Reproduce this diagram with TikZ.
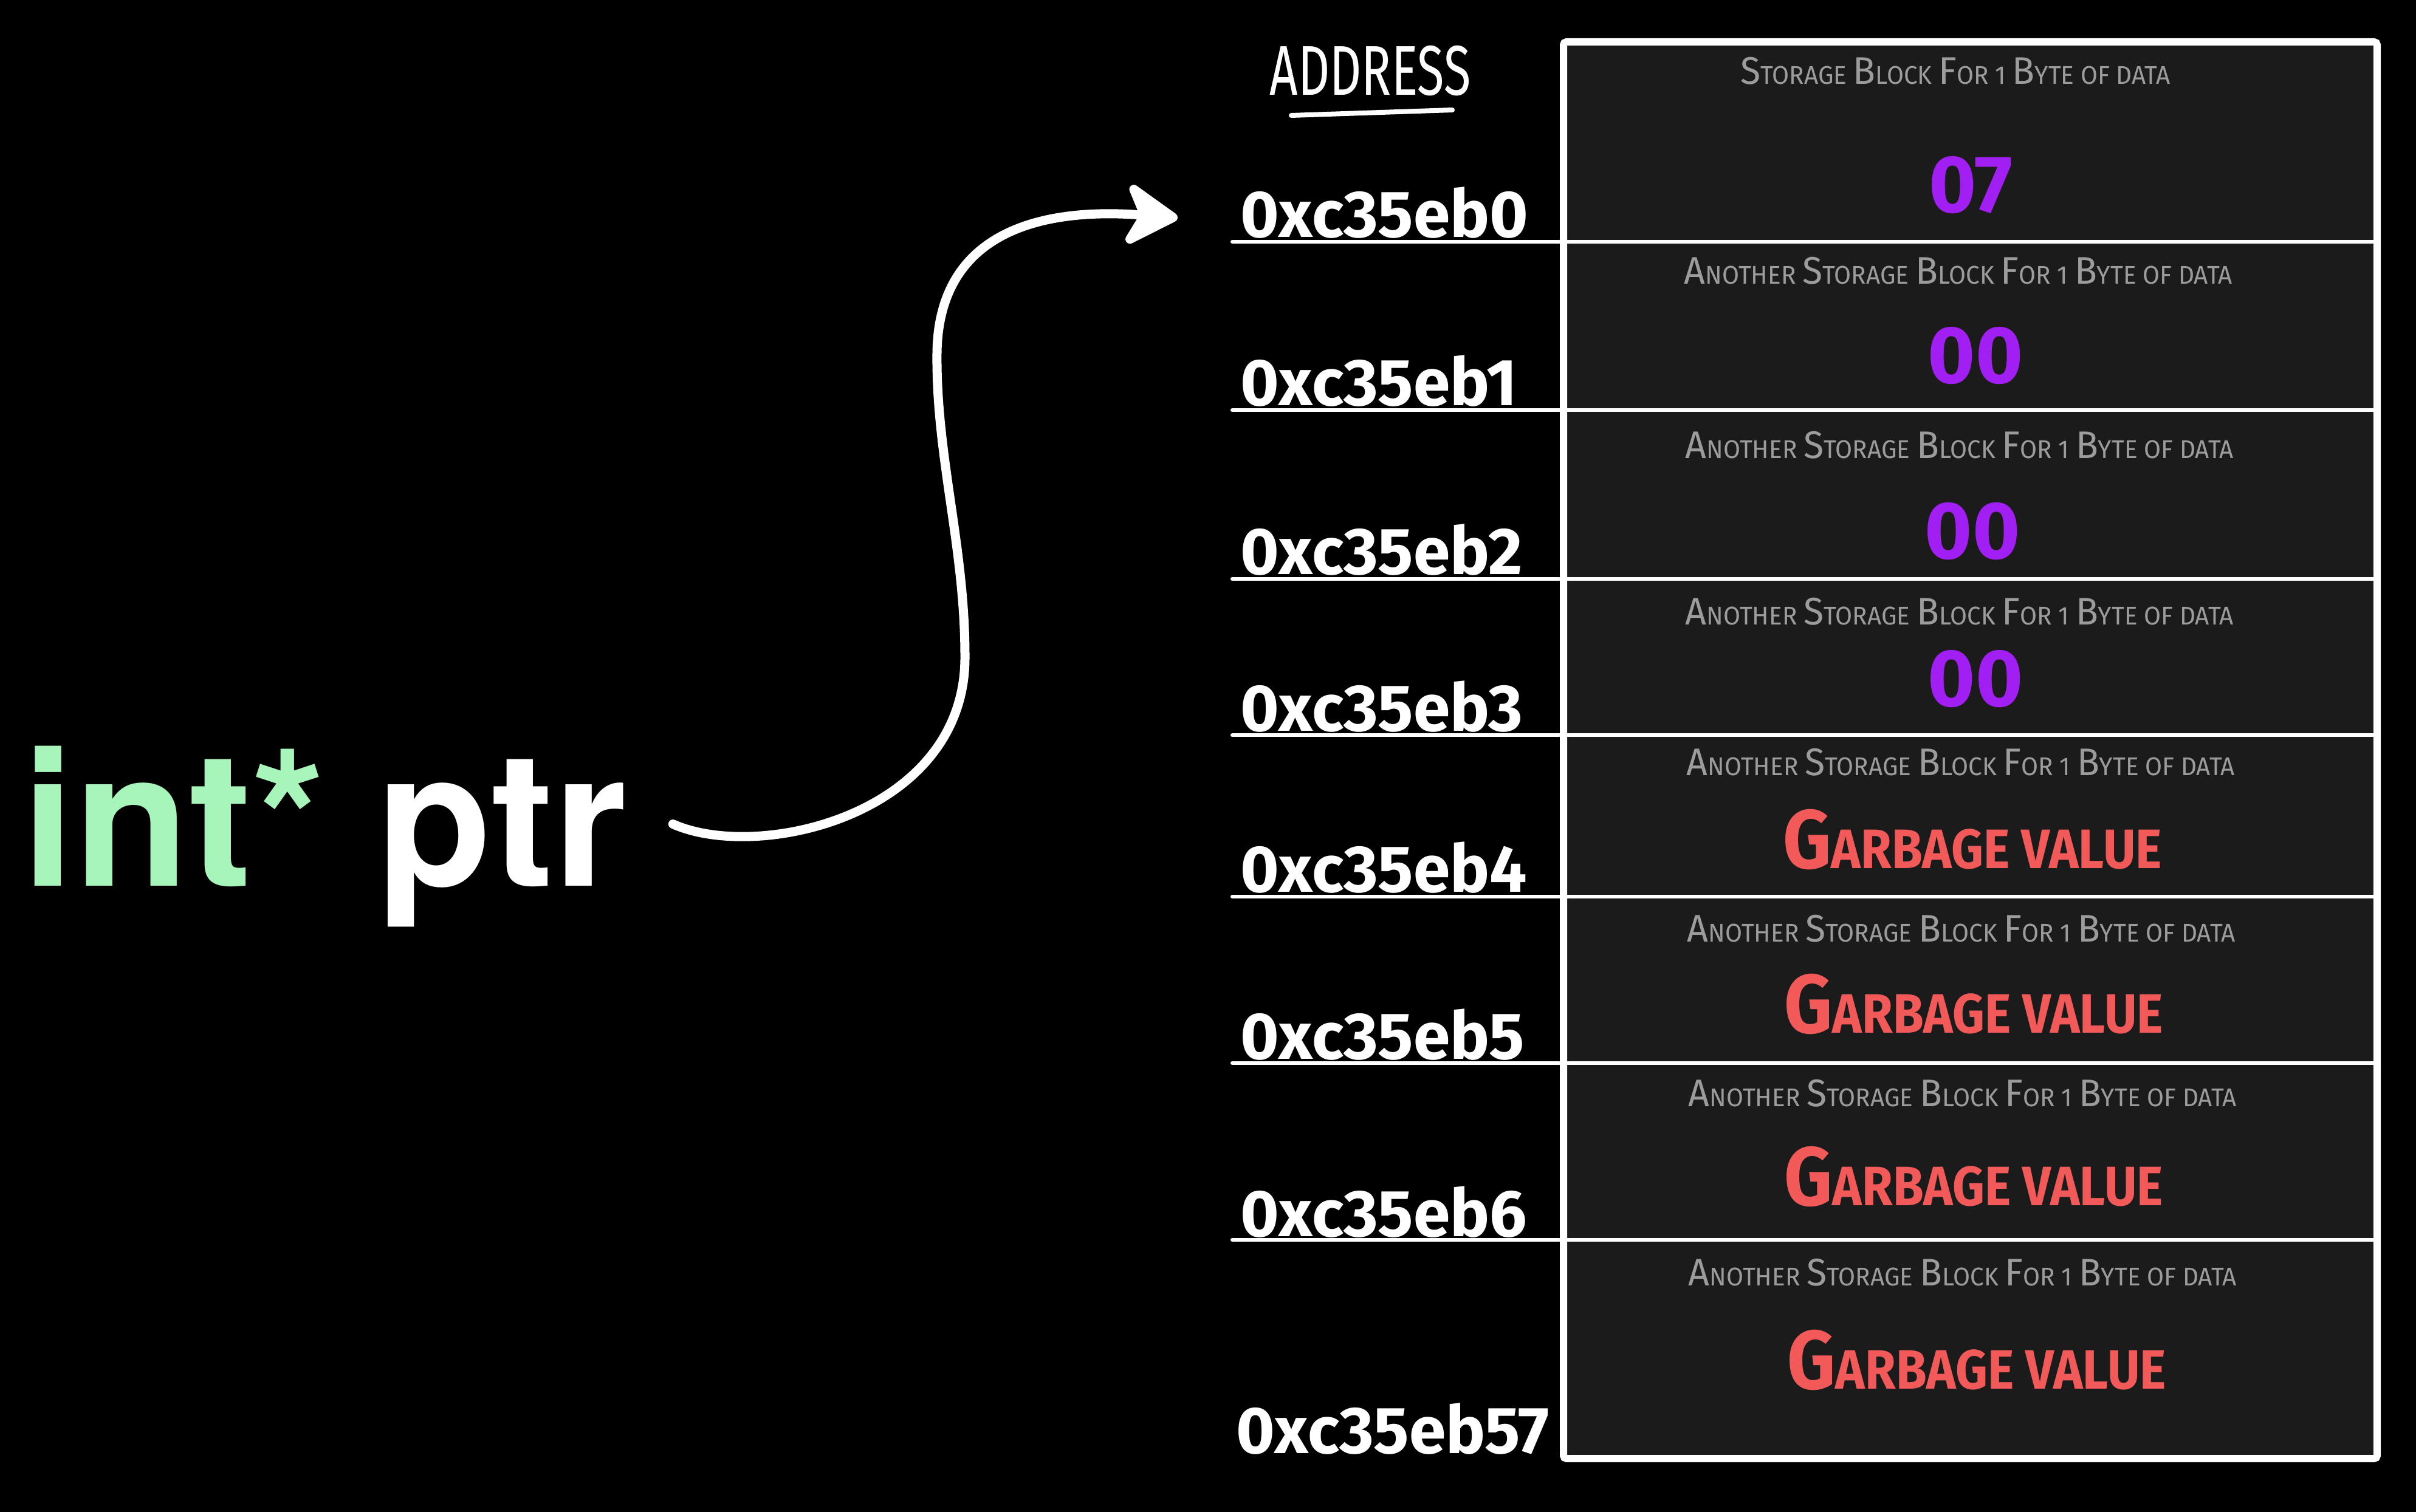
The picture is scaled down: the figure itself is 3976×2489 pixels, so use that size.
\documentclass[tikz,border=0pt]{standalone}
\usepackage{graphicx}
\usepackage{fontspec}
\setmainfont{Fira Sans}
\newfontfamily\heros{TeX Gyre Heros}
\usetikzlibrary{arrows.meta,positioning}

\definecolor{cellgray}{HTML}{1B1B1B}
\definecolor{labelgray}{HTML}{9C9C9C}
\definecolor{bytepurple}{HTML}{A11FF2}
\definecolor{garbagered}{HTML}{F25A5A}
\definecolor{intgreen}{HTML}{A8F5BB}

\newcommand\Cap[1]{\scalebox{1.5}{#1}}
\newcommand\narrow[2]{\scalebox{#1}[1]{#2}}
\newcommand\another{\narrow{0.96}{\Cap{A}NOTHER \Cap{S}TORAGE \Cap{B}LOCK \Cap{F}OR 1 \Cap{B}YTE OF DATA}}
\newcommand\garbage{\narrow{0.9}{\Cap{G}ARBAGE VALUE}}

\tikzset{
  addr/.style={anchor=base west, inner sep=0, text=white,
    font=\fontsize{31}{34}\selectfont\bfseries},
  hdr/.style={inner sep=0, text=white, font=\fontsize{33}{36}\selectfont},
  blocklabel/.style={inner sep=0, text=labelgray, font=\fontsize{12}{14}\selectfont},
  byteval/.style={inner sep=0, text=bytepurple, font=\fontsize{38}{42}\selectfont\bfseries},
  garbval/.style={inner sep=0, text=garbagered, font=\fontsize{26}{30}\selectfont\bfseries},
  rowline/.style={white, line width=0.6mm, line cap=round},
  ptrarrow/.style={white, line width=1.5mm, line cap=round,
    -{Stealth[length=10mm,width=12mm,inset=3mm,round]}}
}

\begin{document}
\begin{tikzpicture}[x=0.1mm,y=-0.1mm]
  \fill[black] (0,0) rectangle (3976,2489);

  % memory blocks
  \draw[white, line width=1.2mm, fill=cellgray, rounded corners=0.5mm]
    (2573,69) rectangle (3912,2401);
  \draw[rowline] (2028,398) -- (3912,398);
  \draw[rowline] (2028,675) -- (3912,675);
  \draw[rowline] (2028,953) -- (3912,953);
  \draw[rowline] (2028,1210) -- (3912,1210);
  \draw[rowline] (2028,1476) -- (3912,1476);
  \draw[rowline] (2028,1750) -- (3912,1750);
  \draw[rowline] (2028,2041) -- (3912,2041);

  \node[hdr] (hdr) at (2255,117) {\narrow{0.7}{ADDRESS}};
  \draw[white, line width=0.8mm, line cap=round] (2125,190) -- (2390,181);

  \node[addr] (a0) at (2041,390) {0xc35eb0};
  \node[addr] (a1) at (2041,667) {0xc35eb1};
  \node[addr] (a2) at (2041,945) {0xc35eb2};
  \node[addr] (a3) at (2041,1203) {0xc35eb3};
  \node[addr] (a4) at (2041,1468) {0xc35eb4};
  \node[addr] (a5) at (2041,1743) {0xc35eb5};
  \node[addr] (a6) at (2041,2035) {0xc35eb6};
  \node[addr] (a7) at (2034,2392) {0xc35eb57};

  \node[blocklabel] (l0) at (3218,117)
    {\narrow{0.96}{\Cap{S}TORAGE \Cap{B}LOCK \Cap{F}OR 1 \Cap{B}YTE OF DATA}};
  \node[blocklabel] (l1) at (3223,446) {\another};
  \node[blocklabel] (l2) at (3225,733) {\another};
  \node[blocklabel] (l3) at (3225,1007) {\another};
  \node[blocklabel] (l4) at (3227,1255) {\another};
  \node[blocklabel] (l5) at (3228,1529) {\another};
  \node[blocklabel] (l6) at (3230,1800) {\another};
  \node[blocklabel] (l7) at (3230,2095) {\another};

  \node[byteval] (v0) at (3243,305) {07};
  \node[byteval] (v1) at (3251,586) {00};
  \node[byteval] (v2) at (3246,875) {00};
  \node[byteval] (v3) at (3251,1118) {00};
  \node[garbval] (v4) at (3246,1382) {\garbage};
  \node[garbval] (v5) at (3248,1653) {\garbage};
  \node[garbval] (v6) at (3248,1937) {\garbage};
  \node[garbval] (v7) at (3253,2239) {\garbage};

  % the pointer
  \node[anchor=base west, inner sep=0, text=white] (ptr) at (36,1458)
    {\heros\bfseries\fontsize{88}{92}\selectfont\textcolor{intgreen}{int*} ptr};
  \draw[ptrarrow] ([shift={(75,-20)}]ptr.east)
    .. controls (1250,1420) and (1590,1340) .. (1588,1080)
    .. controls (1588,900) and (1540,750) .. (1542,580)
    .. controls (1545,390) and (1700,340) .. ([shift={(-103,9)}]a0.west);
\end{tikzpicture}
\end{document}
